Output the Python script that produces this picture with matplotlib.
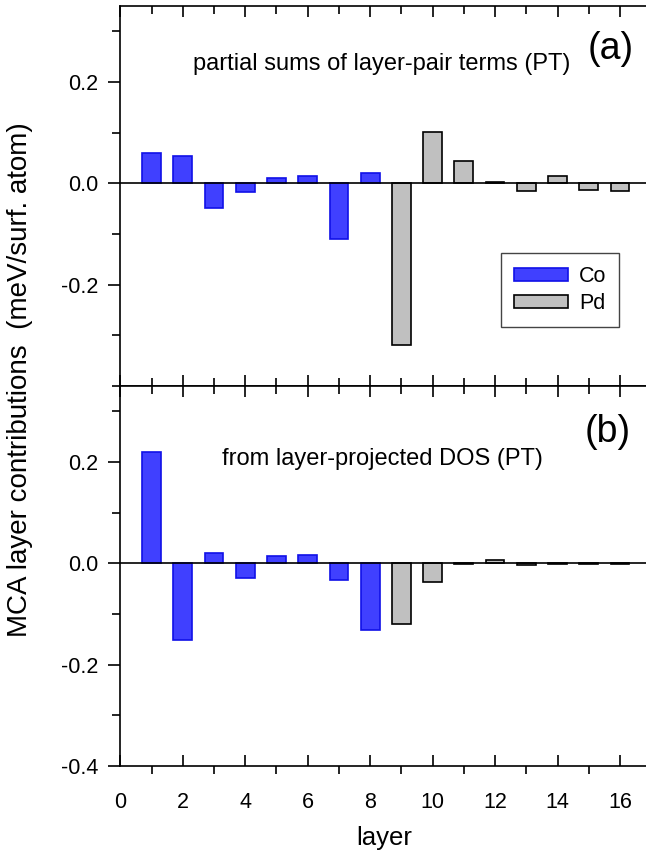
import matplotlib
matplotlib.use('Agg')
import matplotlib.pyplot as plt
from matplotlib.patches import Patch
from matplotlib.ticker import MultipleLocator, FormatStrFormatter

plt.rcParams['font.family'] = ['Liberation Sans', 'DejaVu Sans']

# layers 1-8 are Co, 9-16 are Pd
layers_co = [1, 2, 3, 4, 5, 6, 7, 8]
layers_pd = [9, 10, 11, 12, 13, 14, 15, 16]

# (a) partial sums of layer-pair terms
pair_co = [0.060, 0.053, -0.048, -0.018, 0.011, 0.014, -0.109, 0.020]
pair_pd = [-0.320, 0.102, 0.044, 0.003, -0.016, 0.014, -0.014, -0.015]

# (b) from layer-projected DOS
dos_co = [0.220, -0.152, 0.020, -0.029, 0.015, 0.017, -0.032, -0.132]
dos_pd = [-0.119, -0.036, -0.001, 0.007, -0.003, -0.001, -0.001, -0.001]

co_face = '#4040ff'
co_edge = '#1010e8'
pd_face = '#c0c0c0'
pd_edge = 'black'

W, H = 646, 861
fig = plt.figure(figsize=(W / 100, H / 100), dpi=100)

left = 120.3 / W
width = 17 * 31.23 / W
ph = 380 / H
ax_a = fig.add_axes([left, (H - 386) / H, width, ph])
ax_b = fig.add_axes([left, (H - 766) / H, width, ph])

panels = [(ax_a, pair_co, pair_pd), (ax_b, dos_co, dos_pd)]
for ax, vco, vpd in panels:
    ax.bar(layers_co, vco, width=0.6, color=co_face, edgecolor=co_edge, linewidth=1.2, zorder=2)
    ax.bar(layers_pd, vpd, width=0.6, color=pd_face, edgecolor=pd_edge, linewidth=1.2, zorder=2)
    ax.axhline(0, color='black', lw=1.2, zorder=3)
    ax.set_xlim(0, 17)
    ax.set_ylim(-0.4, 0.35)
    ax.xaxis.set_major_locator(MultipleLocator(2))
    ax.xaxis.set_minor_locator(MultipleLocator(1))
    ax.yaxis.set_minor_locator(MultipleLocator(0.1))
    ax.yaxis.set_major_formatter(FormatStrFormatter('%.1f'))
    ax.spines['right'].set_visible(False)
    for s in ax.spines.values():
        s.set_linewidth(1.2)
    ax.tick_params(axis='y', which='major', direction='out', length=9, width=1.2, labelsize=15.5, pad=7)
    ax.tick_params(axis='y', which='minor', direction='out', length=6, width=1.2)
    ax.tick_params(axis='x', which='major', top=True, direction='in', length=8, width=1.2, labelsize=15.5)
    ax.tick_params(axis='x', which='minor', top=True, direction='in', length=6, width=1.2)

# top panel: no x labels
ax_a.tick_params(axis='x', which='both', labelbottom=False)
ax_a.set_yticks([-0.2, 0.0, 0.2])
ax_a.set_ylim(-0.4, 0.35)

# bottom panel: bottom ticks point outward, top ticks inward
for t in ax_b.xaxis.get_major_ticks():
    t.tick1line.set_marker(3)
    t.tick1line.set_markersize(9)
for t in ax_b.xaxis.get_minor_ticks():
    t.tick1line.set_marker(3)
    t.tick1line.set_markersize(6)
ax_b.tick_params(axis='x', which='major', pad=19)
ax_b.set_yticks([-0.4, -0.2, 0.0, 0.2])
ax_b.set_ylim(-0.4, 0.35)

ax_a.text(8.38, 0.235, 'partial sums of layer-pair terms (PT)', ha='center', va='center', fontsize=17)
ax_a.text(15.7, 0.266, '(a)', ha='center', va='center', fontsize=27)
ax_b.text(8.38, 0.206, 'from layer-projected DOS (PT)', ha='center', va='center', fontsize=17)
ax_b.text(15.6, 0.259, '(b)', ha='center', va='center', fontsize=27)

handles = [Patch(facecolor=co_face, edgecolor=co_edge, linewidth=1.2, label='Co'),
           Patch(facecolor=pd_face, edgecolor=pd_edge, linewidth=1.2, label='Pd')]
leg = ax_a.legend(handles=handles, loc='upper left', bbox_to_anchor=(501.5 / W, (H - 253) / H),
                  bbox_transform=fig.transFigure, borderaxespad=0, fontsize=15.5, frameon=True,
                  fancybox=False, edgecolor='#444444', framealpha=1, handlelength=2.5,
                  handleheight=0.55, borderpad=0.6, labelspacing=0.3, handletextpad=0.5)
leg.get_frame().set_linewidth(1.0)

fig.text(20 / W, 1 - 380 / H, 'MCA layer contributions  (meV/surf. atom)', rotation=90,
         ha='center', va='center', fontsize=20)
fig.text(384 / W, 1 - 838 / H, 'layer', ha='center', va='center', fontsize=18.5)

fig.savefig('out.png', dpi=100)
